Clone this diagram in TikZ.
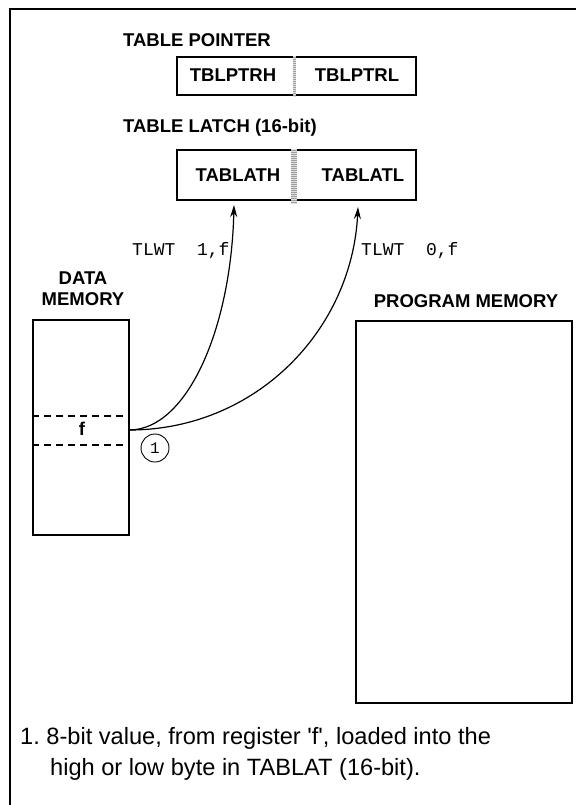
\documentclass[tikz,border=0pt]{standalone}
\usepackage{fontspec}
\setmainfont{Liberation Sans}
\setmonofont{Liberation Mono}
\usetikzlibrary{arrows.meta}
\frenchspacing
\begin{document}
\begin{tikzpicture}[x=1pt,y=-1pt,
  boxline/.style={draw,line width=1.8pt},
  regbox/.style={boxline,rectangle,inner sep=0pt},
  blabel/.style={font=\fontsize{18.5}{20}\selectfont\bfseries,inner sep=0pt,anchor=base west},
  rlabel/.style={font=\fontsize{18.5}{20}\selectfont\bfseries,inner sep=0pt,anchor=base},
  monolabel/.style={font=\fontsize{18}{20}\selectfont\ttfamily,inner sep=0pt,anchor=base west},
  notetext/.style={font=\fontsize{23.6}{26}\selectfont,inner sep=0pt,anchor=base west},
  flow/.style={line width=1.2pt,-{Stealth[length=12pt,width=7pt]}},
  sepbar/.style={fill=gray!75},
  seplines/.style={draw=gray!25,line width=0.6pt}
]
\useasboundingbox (0,0) rectangle (576,805);
\fill[white] (0,0) rectangle (576,805);
% outer frame (top and left edges visible)
\draw[line width=2pt] (576,9) -- (10,9) -- (10,805);

% Table pointer
\node[blabel] (tptitle) at (123,47) {TABLE POINTER};
\node[regbox,minimum width=239pt,minimum height=38pt] (tblptr) at (296.5,76) {};
\fill[sepbar] (292.5,56) rectangle (295.5,97);
\foreach \i in {0,...,20} \draw[seplines] (292.5,56+2*\i) -- (295.5,56+2*\i);
\node[rlabel] (tblptrh) at (233,82) {TBLPTRH};
\node[rlabel] (tblptrl) at (357,82) {TBLPTRL};

% Table latch
\node[blabel] (tltitle) at (123,133) {TABLE LATCH (16-bit)};
\node[regbox,minimum width=239pt,minimum height=50pt] (tablat) at (296.5,175) {};
\fill[sepbar] (291,149) rectangle (297,203);
\foreach \i in {0,...,27} \draw[seplines] (291,149+2*\i) -- (297,149+2*\i);
\node[rlabel] (tablath) at (238,182) {TABLATH};
\node[rlabel] (tablatl) at (363,182) {TABLATL};

% instruction labels
\node[monolabel] (tlwt1) at (132,255) {TLWT~~1,f};
\node[monolabel] (tlwt0) at (361,255) {TLWT~~0,f};

% Data memory
\node[rlabel] (dmtitleA) at (83,284.5) {DATA};
\node[rlabel] (dmtitleB) at (83,305) {MEMORY};
\node[regbox,minimum width=96pt,minimum height=215pt] (dmem) at (81,427.5) {};
\draw[line width=1.8pt,dash pattern=on 7pt off 5pt] (dmem.west |- 0,416) -- (dmem.east |- 0,416);
\draw[line width=1.8pt,dash pattern=on 7pt off 5pt] (dmem.west |- 0,445) -- (dmem.east |- 0,445);
\node[rlabel] (freg) at (82,435) {f};

% Program memory
\node[rlabel] (pmtitle) at (466,307) {PROGRAM MEMORY};
\node[regbox,minimum width=216pt,minimum height=382pt] (pmem) at (464,512) {};

% connectors
\coordinate (fpt) at (129,430);
\coordinate (tipA) at (234,205);
\coordinate (tipB) at (358,207);
\draw[flow] (fpt) .. controls (187,430) and (231,329) .. (tipA);
\draw[flow] (fpt) .. controls (256,430) and (352,330) .. (tipB);

% note marker
\node[circle,draw,line width=0.9pt,minimum size=28pt,inner sep=0pt,font=\fontsize{16}{16}\selectfont\ttfamily] (note1) at (155,448) {1};

% footnote
\node[notetext] (fn1) at (20,744) {1. 8-bit value, from register \textquotesingle f\textquotesingle, loaded into the};
\node[notetext] (fn2) at (50,775) {high or low byte in TABLAT (16-bit).};
\end{tikzpicture}
\end{document}
